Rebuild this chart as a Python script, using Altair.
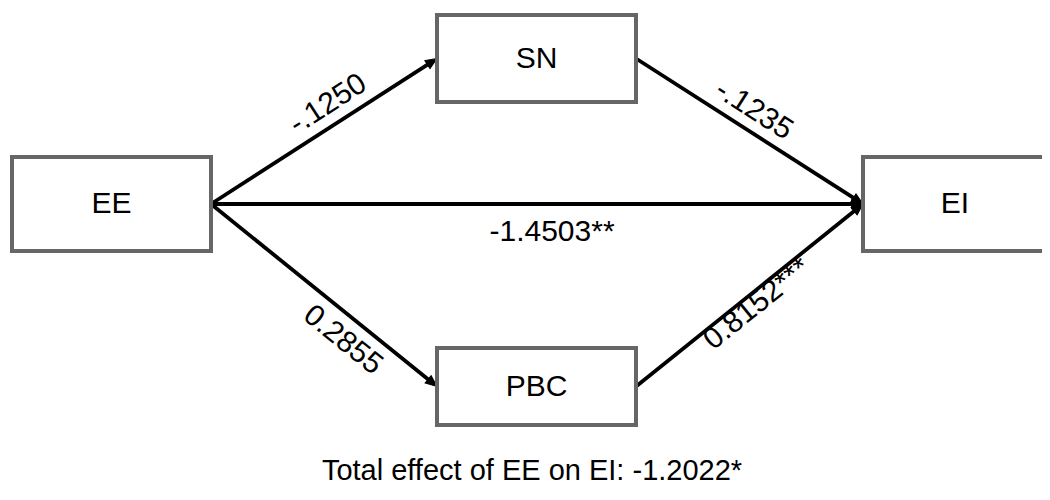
import altair as alt
import pandas as pd
import numpy as np

# Nodes (stroke-centre geometry in page pixels)
node_names = ["EE", "SN", "PBC", "EI"]
node_x0 = [12, 437, 437, 863]
node_x1 = [211, 636, 636, 1060]
node_y0 = [157, 15, 348, 157]
node_y1 = [251, 102, 425, 251]

# Edges
edge_src = ["EE", "SN", "EE", "EE", "PBC"]
edge_dst = ["SN", "EI", "EI", "PBC", "EI"]
edge_labels = ["-.1250", "-.1235", "-1.4503**", "0.2855", "0.8152***"]
label_x = [328, 754, 552, 343, 757]
label_y = [104, 110, 232, 340, 304]

total_text = ["Total effect of EE on EI: -1.2022*"]
total_x = [532]
total_y = [471]

nodes = pd.DataFrame({"name": node_names, "x0": node_x0, "x1": node_x1,
                      "y0": node_y0, "y1": node_y1})
nodes["cx"] = (nodes.x0 + nodes.x1) / 2
nodes["cy"] = (nodes.y0 + nodes.y1) / 2
nodes["tx"] = nodes["cx"]
nodes.loc[nodes.name == "EI", "tx"] = 955
pos = nodes.set_index("name")

rows = []
for s, d, lab, lx, ly in zip(edge_src, edge_dst, edge_labels, label_x, label_y):
    sx, sy = float(pos.loc[s, "x1"]), float(pos.loc[s, "cy"])
    ex, ey = float(pos.loc[d, "x0"]), float(pos.loc[d, "cy"])
    ang = float(np.degrees(np.arctan2(ey - sy, ex - sx))) % 360
    L = float(np.hypot(ex - sx, ey - sy))
    ux, uy = (ex - sx) / L, (ey - sy) / L
    rows.append({"sx": sx, "sy": sy, "ex": ex - ux * 8, "ey": ey - uy * 8,
                 "tipx": ex, "tipy": ey, "ang": ang,
                 "label": lab, "lx": lx, "ly": ly})
edges = pd.DataFrame(rows)
totals = pd.DataFrame({"t": total_text, "x": total_x, "y": total_y})

xs = alt.Scale(domain=[8, 1042], nice=False, zero=False)
ys = alt.Scale(domain=[8, 492], nice=False, zero=False, reverse=True)
angs = alt.Scale(domain=[0, 360], range=[0, 360])
FONT = "Liberation Sans"

boxes = alt.Chart(nodes).mark_rect(fill="white", stroke="#666666", strokeWidth=4).encode(
    x=alt.X("x0:Q", scale=xs, axis=None), x2="x1:Q",
    y=alt.Y("y0:Q", scale=ys, axis=None), y2="y1:Q")

box_text = alt.Chart(nodes).mark_text(font=FONT, fontSize=30, color="black",
                                      align="center", baseline="middle").encode(
    x=alt.X("tx:Q", scale=xs, axis=None), y=alt.Y("cy:Q", scale=ys, axis=None), text="name:N")

lines = alt.Chart(edges).mark_rule(color="black", strokeWidth=3.8).encode(
    x=alt.X("sx:Q", scale=xs, axis=None), y=alt.Y("sy:Q", scale=ys, axis=None),
    x2="ex:Q", y2="ey:Q")

heads = alt.Chart(edges).mark_point(shape="M0,0L-1,-0.42L-1,0.42Z", filled=True,
                                    fill="black", stroke="black", strokeWidth=1,
                                    opacity=1, size=520).encode(
    x=alt.X("tipx:Q", scale=xs, axis=None), y=alt.Y("tipy:Q", scale=ys, axis=None),
    angle=alt.Angle("ang:Q", scale=angs, legend=None))

elabels = alt.Chart(edges).mark_text(font=FONT, fontSize=30, color="black",
                                     align="center", baseline="middle").encode(
    x=alt.X("lx:Q", scale=xs, axis=None), y=alt.Y("ly:Q", scale=ys, axis=None),
    text="label:N",
    angle=alt.Angle("ang:Q", scale=angs, legend=None))

ttext = alt.Chart(totals).mark_text(font=FONT, fontSize=29, color="black",
                                    align="center", baseline="middle").encode(
    x=alt.X("x:Q", scale=xs, axis=None), y=alt.Y("y:Q", scale=ys, axis=None), text="t:N")

chart = alt.layer(lines, heads, boxes, box_text, elabels, ttext).properties(
    width=1034, height=484, autosize=alt.AutoSizeParams(type="none"), padding=0
).configure_view(stroke=None)

chart.save("out.html", embed_options={"renderer": "svg", "actions": False})
